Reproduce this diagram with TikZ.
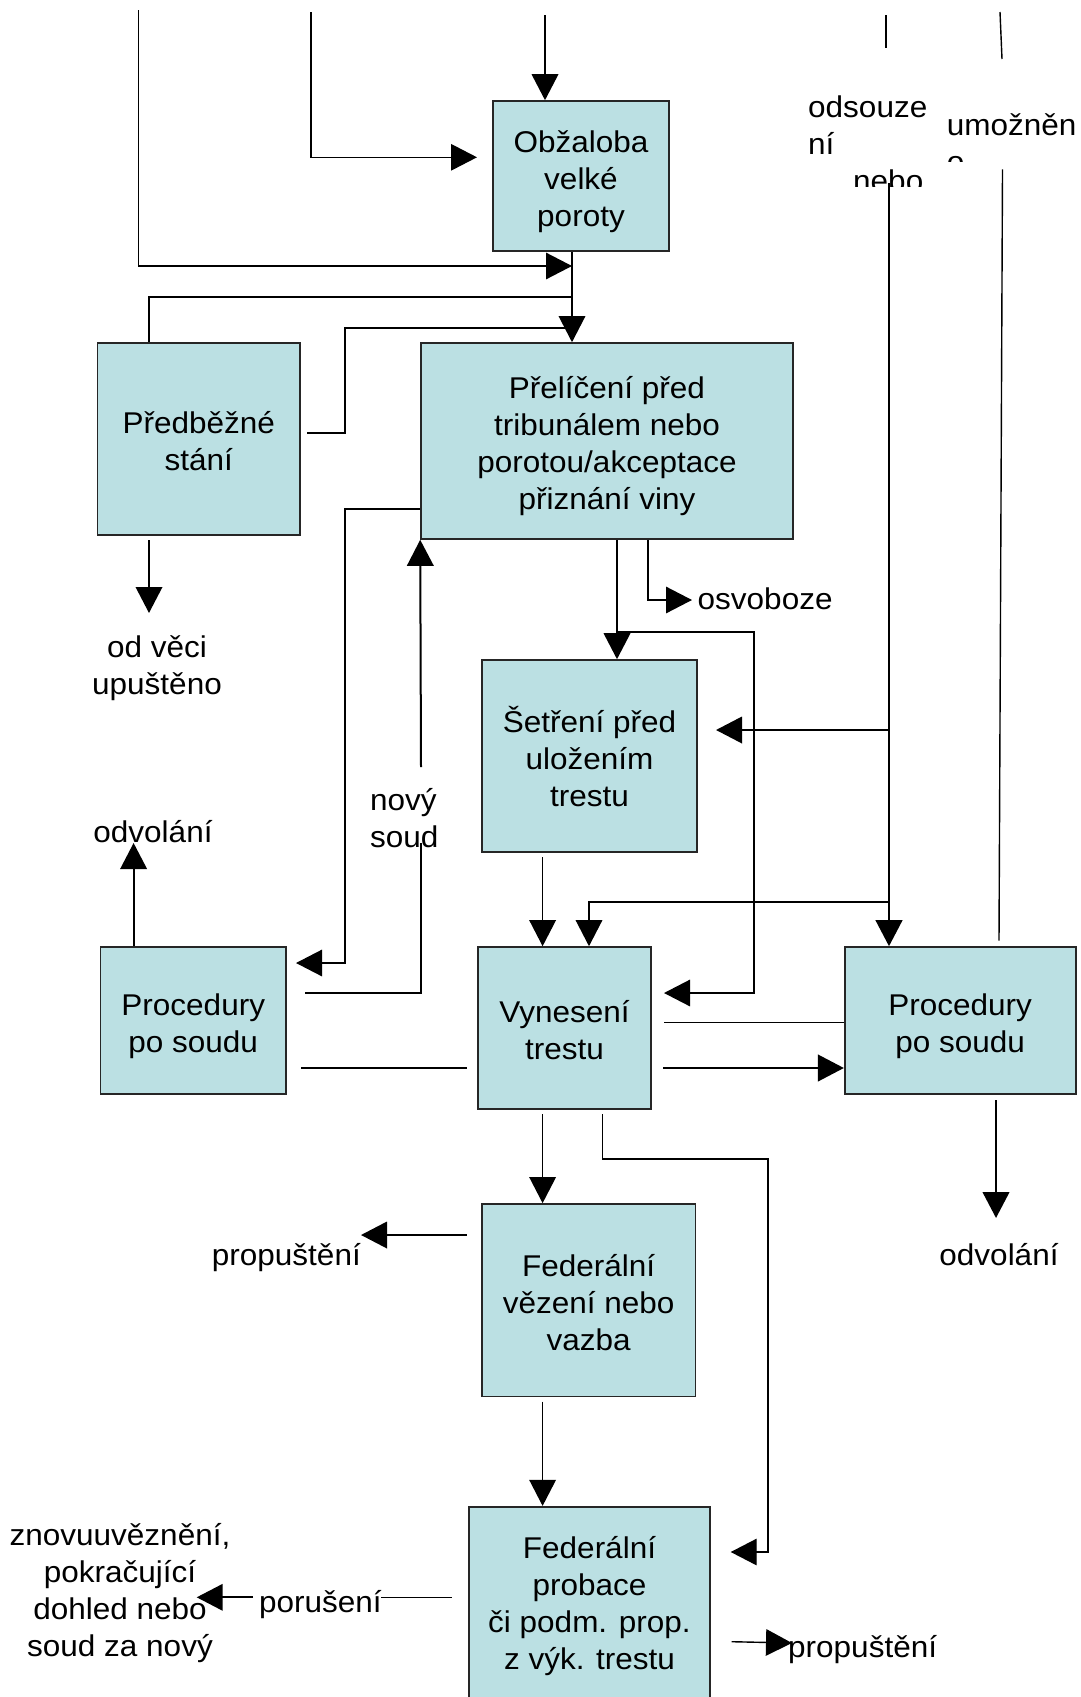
\documentclass[tikz,border=0pt]{standalone}
\usepackage{fontspec}
\setmainfont{Liberation Sans}[FakeStretch=1.05]
\usetikzlibrary{arrows.meta}
\definecolor{boxfill}{RGB}{187,224,227}
\newcommand\firstln{\vphantom{Ř}}
\newcommand\lastln[2][0pt]{\raisebox{0pt}[\height][#1]{#2}}
\begin{document}
\begin{tikzpicture}[x=1pt,y=-1pt,
  font=\fontsize{30}{37}\selectfont,
  box/.style={draw=black!85,line width=1.6pt,fill=boxfill,align=center,inner sep=0pt},
  lbl/.style={inner sep=0pt,align=center},
  l1/.style={line width=1.4pt},
  l2/.style={line width=2pt},
  l3/.style={line width=2.6pt},
  arr/.style={-{Triangle[length=26pt,width=26.5pt]}}]
\useasboundingbox (0,0) rectangle (1081,1697);
\clip (0,0) rectangle (1081,1697);

% boxes
\node[box,minimum width=176pt,minimum height=150pt] (obz) at (581,176) {\firstln Obžaloba\\velké\\\lastln{poroty}};
\node[box,minimum width=202.5pt,minimum height=192pt] (pred) at (198.75,439) {\firstln Předběžné\\\lastln{stání}};
\node[box,minimum width=372pt,minimum height=196pt] (prel) at (607,441) {\firstln Přelíčení před\\tribunálem nebo\\porotou/akceptace\\\lastln{přiznání viny}};
\node[box,minimum width=215pt,minimum height=192pt] (setr) at (589.5,756) {\firstln Šetření před\\uložením\\\lastln{trestu}};
\node[box,minimum width=185.5pt,minimum height=147pt] (procL) at (193.25,1020.5) {\firstln Procedury\\\lastln{po soudu}};
\node[box,minimum width=173pt,minimum height=162pt] (vyn) at (564.5,1028) {\firstln Vynesení\\\lastln{trestu}};
\node[box,minimum width=231pt,minimum height=147pt] (procR) at (960.2,1020.5) {\firstln Procedury\\\lastln{po soudu}};
\node[box,minimum width=213.8pt,minimum height=192.7pt] (fedv) at (588.6,1300.3) {\firstln Federální\\vězení nebo\\\lastln{vazba}};
\node[box,minimum width=241pt,minimum height=203.6pt] (prob) at (589.5,1608.5) {\firstln Federální\\probace\\či podm. prop.\\\lastln[14.4pt]{z výk. trestu}};

% labels
\node[lbl,anchor=base] (odv1) at (153,842) {odvolání};
\node[lbl] (odveci) at (157,668) {od věci\\upuštěno};
\node[lbl,align=left,anchor=west] (novy) at (370,818) {nový\\soud};
\node[lbl,anchor=base west] (osv) at (697.5,609) {osvoboze};
\node[lbl,anchor=base] (odv2) at (999,1265) {odvolání};
\node[lbl,anchor=base east] (prop1) at (361,1265) {propuštění};
\node[lbl,anchor=base] (poru) at (320.3,1612.5) {porušení};
\node[lbl,anchor=base west] (prop2) at (788,1657) {propuštění};
\node[lbl] (znovu) at (120,1593) {znovuuvěznění,\\pokračující\\dohled nebo\\soud za nový};
\begin{scope}
  \clip (790,60) rectangle (940,186);
  \node[lbl,align=left,anchor=west] (odsouz) at (808,143.4) {odsouze\\ní\\\hspace*{45pt}nebo};
\end{scope}
\begin{scope}
  \clip (940,60) rectangle (1081,161.7);
  \node[lbl,align=left,anchor=west] (umoz) at (946.7,143) {umožněn\\o};
\end{scope}

% coordinates
\coordinate (a0) at (138.5,10);
\coordinate (tr) at (572,266);
\coordinate (b0) at (311,12);
\coordinate (b1) at (477,157.3);
\coordinate (c0) at (545,15);
\coordinate (p1) at (149,297);
\coordinate (q0) at (307,433);
\coordinate (q1) at (345,328);
\coordinate (r0) at (345,509);
\coordinate (r1) at (296,963);
\coordinate (n0) at (421,767);
\coordinate (n1) at (421,843);
\coordinate (n2) at (305,993);
\coordinate (s0) at (301,1068);
\coordinate (s1) at (467,1068);
\coordinate (o1) at (133.6,843);
\coordinate (d0) at (149,540);
\coordinate (d1) at (149,613);
\coordinate (e0) at (617,632);
\coordinate (f0) at (648,600);
\coordinate (f1) at (692,600);
\coordinate (g1) at (754,993);
\coordinate (g2) at (664,993);
\coordinate (v0) at (889,183);
\coordinate (v1) at (889,730);
\coordinate (v2) at (716,730);
\coordinate (v3) at (889,902);
\coordinate (v4) at (589,902);
\coordinate (h0) at (542.6,857);
\coordinate (u0) at (886,15);
\coordinate (u1) at (886,48);
\coordinate (u2) at (1000,12);
\coordinate (u3) at (1002,59);
\coordinate (u4) at (1002.5,169.3);
\coordinate (u5) at (999,940.7);
\coordinate (w0) at (664,1022.7);
\coordinate (w1) at (663,1068);
\coordinate (x1) at (996,1100);
\coordinate (x0) at (996,1218);
\coordinate (y0) at (542.6,1114);
\coordinate (y1) at (602.7,1114);
\coordinate (y2) at (768,1159);
\coordinate (y3) at (768,1552);
\coordinate (y4) at (730.7,1552);
\coordinate (z0) at (466.6,1235);
\coordinate (z1) at (361,1235);
\coordinate (k0) at (542.6,1401.7);
\coordinate (pr1) at (451.7,1597.3);
\coordinate (pr2) at (381,1597.3);
\coordinate (pr3) at (253,1597.3);
\coordinate (pr4) at (196.7,1597.3);
\coordinate (t0) at (731.7,1641.7);
\coordinate (t1) at (792,1643);

% connectors
\draw[l1,arr] (a0) |- (tr);
\draw[l1,arr] (b0) |- (b1);
\draw[l2,arr] (c0) -- (c0 |- obz.north);
\draw[l1,arr] (obz.south -| tr) -- (prel.north -| tr);
\draw[l1] (pred.north -| p1) |- (p1 -| tr);
\draw[l1] (q0) -| (q1) -- (q1 -| tr);
\draw[l1,arr] (prel.west |- r0) -- (r0) |- (r1);
\draw[l2,arr] (n0) -- (prel.south west);
\draw[l1] (n1) |- (n2);
\draw[l1] (s0) -- (s1);
\draw[l2,arr] (procL.north -| o1) -- (o1);
\draw[l2,arr] (d0) -- (d1);
\draw[l2,arr] (prel.south -| e0) -- (setr.north -| e0);
\draw[l1,arr] (prel.south -| f0) |- (f1);
\draw[l1,arr] (e0) -| (g1) -- (g2);
\draw[l3,arr] (v0) -- (v0 |- procR.north);
\draw[l2,arr] (v1) -- (v2);
\draw[l1,arr] (v3) -- (v4) -- (v4 |- vyn.north);
\draw[l1,arr] (h0) -- (h0 |- vyn.north);
\draw[l1] (u0) -- (u1);
\draw[l1] (u2) -- (u3);
\draw[l1] (u4) -- (u5);
\draw[l1] (w0) -- (w0 -| procR.west);
\draw[l3,arr] (w1) -- (w1 -| procR.west);
\draw[l3,arr] (x1) -- (x0);
\draw[l1,arr] (y0) -- (y0 |- fedv.north);
\draw[l1,arr] (y1) |- (y2) -- (y3) -- (y4);
\draw[l2,arr] (z0) -- (z1);
\draw[l1,arr] (k0) -- (k0 |- prob.north);
\draw[l1] (pr1) -- (pr2);
\draw[l2,arr] (pr3) -- (pr4);
\draw[l1,arr] (t0) -- (t1);
\end{tikzpicture}
\end{document}
